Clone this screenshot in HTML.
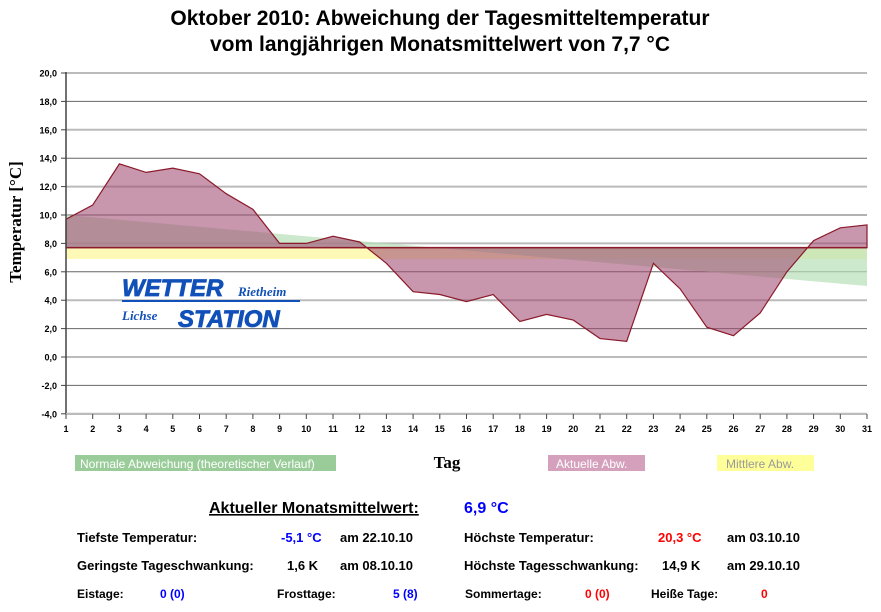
<!DOCTYPE html>
<html><head><meta charset="utf-8"><style>
body{margin:0;background:#fff;width:881px;height:607px;overflow:hidden;font-family:"Liberation Sans",Arial,sans-serif}
</style></head><body>
<svg id="s" width="881" height="607" xmlns="http://www.w3.org/2000/svg" font-family="Liberation Sans, Arial, sans-serif">
<rect width="881" height="607" fill="#fff"/>
<text x="440" y="25" text-anchor="middle" font-size="21" font-weight="bold">Oktober 2010: Abweichung der Tagesmitteltemperatur</text>
<text x="440" y="51" text-anchor="middle" font-size="21" font-weight="bold">vom langjährigen Monatsmittelwert von 7,7 °C</text>
<g id="g"></g>
<text transform="translate(21,222) rotate(-90)" text-anchor="middle" font-family="Liberation Serif, serif" font-weight="bold" font-size="17">Temperatur [°C]</text>
<g font-style="italic" font-weight="bold" fill="#1050b8">
<text x="122" y="296" font-size="24" letter-spacing="0" stroke="#1050b8" stroke-width="0.8">WETTER</text>
<text x="238" y="296" font-size="13" font-family="Liberation Serif, serif">Rietheim</text>
<rect x="122" y="300" width="178" height="2"/>
<text x="122" y="320" font-size="13" font-family="Liberation Serif, serif">Lichse</text>
<text x="178" y="327" font-size="24" letter-spacing="0" stroke="#1050b8" stroke-width="0.8">STATION</text>
</g>
<rect x="75" y="455" width="261" height="16" fill="#99cc99"/>
<text x="80" y="468" font-size="12" fill="#fff">Normale Abweichung (theoretischer Verlauf)</text>
<text x="447" y="468" text-anchor="middle" font-family="Liberation Serif, serif" font-weight="bold" font-size="17">Tag</text>
<rect x="548" y="455" width="97" height="16" fill="#d4a0bb"/>
<text x="556" y="468" font-size="12" fill="#fff">Aktuelle Abw.</text>
<rect x="717" y="455" width="97" height="16" fill="#ffff99"/>
<text x="726" y="468" font-size="12" fill="#999">Mittlere Abw.</text>
<text x="209" y="513" font-size="16" font-weight="bold" text-decoration="underline">Aktueller Monatsmittelwert:</text>
<text x="464" y="513" font-size="16" font-weight="bold" fill="#00f">6,9 °C</text>
<g font-size="13" font-weight="bold">
<text x="77" y="542">Tiefste Temperatur:</text>
<text x="281" y="542" fill="#00f">-5,1 °C</text>
<text x="340" y="542">am 22.10.10</text>
<text x="464" y="542">Höchste Temperatur:</text>
<text x="658" y="542" fill="#f00">20,3 °C</text>
<text x="727" y="542">am 03.10.10</text>
<text x="77" y="570">Geringste Tageschwankung:</text>
<text x="287" y="570">1,6 K</text>
<text x="340" y="570">am 08.10.10</text>
<text x="464" y="570">Höchste Tagesschwankung:</text>
<text x="662" y="570">14,9 K</text>
<text x="727" y="570">am 29.10.10</text>
<g font-size="12">
<text x="77" y="598">Eistage:</text>
<text x="160" y="598" fill="#00f">0 (0)</text>
<text x="277" y="598">Frosttage:</text>
<text x="393" y="598" fill="#00f">5 (8)</text>
<text x="465" y="598">Sommertage:</text>
<text x="585" y="598" fill="#f00">0 (0)</text>
<text x="651" y="598">Heiße Tage:</text>
<text x="761" y="598" fill="#f00">0</text>
</g></g>
</svg>
<script>
var X=function(d){return 66+(d-1)*26.7},Y=function(v){return 357-14.2*v};
var s='';
for(var i=0;i<=12;i++){var v=20-2*i,y=Y(v);
s+='<line x1="66" x2="867" y1="'+y+'" y2="'+y+'" stroke="'+(i%2?'#666':'#bbb')+'" stroke-width="'+(i%2?1:2)+'"/>';
s+='<line x1="61" x2="66" y1="'+y+'" y2="'+y+'" stroke="#444"/>';
s+='<text x="57" y="'+(y+3.5)+'" text-anchor="end" font-size="9" font-weight="bold">'+v.toFixed(1).replace('.',',')+'</text>';}
s+='<rect x="66" y="'+Y(7.7)+'" width="801" height="'+(Y(6.9)-Y(7.7))+'" fill="#fff8b0" opacity="0.9"/>';
s+='<polygon points="66,'+Y(7.7)+' 66,'+Y(10)+' 867,'+Y(5.0)+' 867,'+Y(7.7)+'" fill="#b8e0b8" opacity="0.7"/>';
var d=[9.7,10.7,13.6,13.0,13.3,12.9,11.5,10.4,8.0,8.0,8.5,8.1,6.6,4.6,4.4,3.9,4.4,2.5,3.0,2.6,1.3,1.1,6.6,4.8,2.1,1.5,3.1,6.0,8.2,9.1,9.3];
var p='66,'+Y(7.7);for(i=0;i<31;i++)p+=' '+X(i+1)+','+Y(d[i]);p+=' 867,'+Y(7.7);
s+='<polygon points="'+p+'" fill="#a04a72" fill-opacity="0.58" stroke="#8b1a2a" stroke-width="1.2"/>';
s+='<line x1="66" x2="867" y1="'+Y(7.7)+'" y2="'+Y(7.7)+'" stroke="#8b1a2a" stroke-width="1.5"/>';
s+='<line x1="66" x2="66" y1="72" y2="414" stroke="#444" stroke-width="1.5"/>';
s+='<line x1="66" x2="867" y1="414" y2="414" stroke="#bbb" stroke-width="2"/>';
for(i=1;i<=31;i++){var x=X(i);s+='<line x1="'+x+'" x2="'+x+'" y1="414" y2="419" stroke="#444"/><text x="'+x+'" y="432" text-anchor="middle" font-size="9" font-weight="bold">'+i+'</text>';}
document.getElementById('g').innerHTML=s;
</script>
</body></html>
